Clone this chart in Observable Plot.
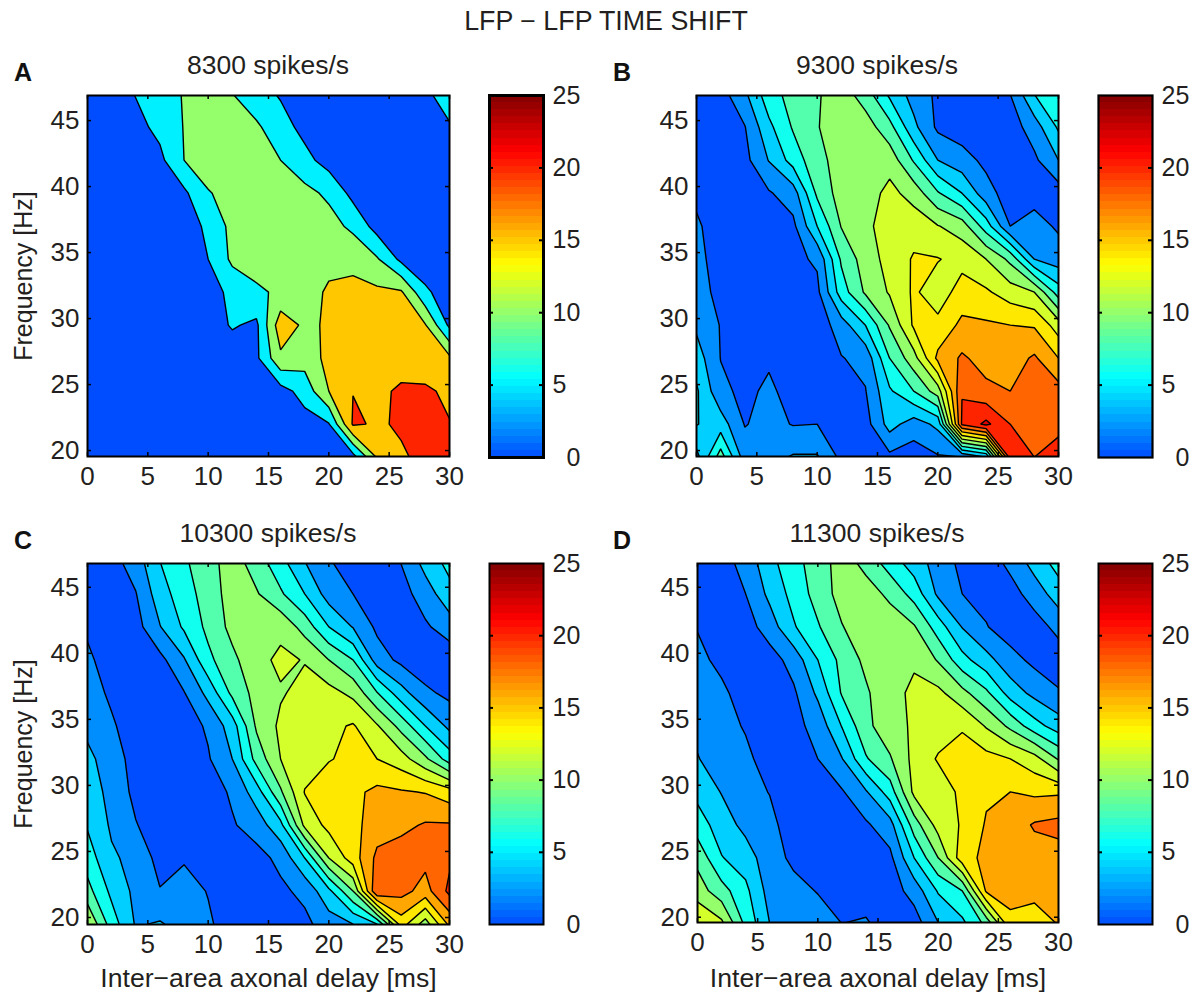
<!DOCTYPE html>
<html><head><meta charset="utf-8">
<script src="https://cdn.jsdelivr.net/npm/d3@7"></script>
<script src="https://cdn.jsdelivr.net/npm/@observablehq/plot@0.6"></script>
<style>
html,body{margin:0;padding:0;background:#fff}
#root{position:relative;width:1191px;height:994px;overflow:hidden;font-family:"Liberation Sans",sans-serif;color:#231f20}
.t{position:absolute;white-space:nowrap;line-height:1}
svg{display:block}
</style></head><body><div id="root"></div>
<script>
const delays = [0,2,4,6,8,10,12,14,16,18,20,22,24,26,28,30];
const freqs = [47,44.5,42,39.5,37,34.5,32,29.5,27,24.5,22,19.5];
const xTicks = [0,5,10,15,20,25,30];
const yTicks = [20,25,30,35,40,45];
const barTicks = [0,5,10,15,20,25];
const levelsCoarse = [0,5,10,15,20];
const levelsFine = [0,2,4,6,8,10,12,14,16,18,20,22];

const panelA = [
[.5,2.5,5.2,7.8,10.3,11,10.1,7,4.5,3,2.5,2.5,3,4.6,4.6,6],
[.5,1.5,3.5,6.3,10.2,11.5,11.5,10.8,7,3.5,2.5,2,2,2.5,3,4.8],
[.3,1,2,3.8,10,11.5,12,12,10,6.5,3,2,2,2,2,2.5],
[.3,.5,1,2,4,9.8,11,12,12,11.5,9,3.5,2,1.5,1,1],
[.3,.5,.8,1.5,2.5,6,11.5,12.5,13,13,12,8.8,3,1.5,1,.8],
[.2,.3,.5,.8,1.5,5,11,12.5,13,13.5,14,14,10.5,3.8,1.5,.8],
[.2,.2,.3,.5,1,2.5,6.5,9,11,13.5,15.5,16,16,15.6,6,2],
[.2,.2,.3,.5,1,2.5,5.5,4,18,14,15.6,16,16.5,16,15.3,4],
[.1,.2,.3,.5,.8,1.5,2,4,14,12,16.5,17,17.5,18,17,16],
[.1,.1,.2,.4,.5,.7,1,1.5,3,7,15,19.9,19,20.7,20.8,19],
[.1,.1,.1,.2,.3,.5,.6,.7,1,3,4.7,20.6,19.5,20.5,21,20.2],
[.1,.1,.1,.2,.3,.3,.5,.6,.8,1.5,2,3,15.5,19.5,21,21]
];
const panelB = [
[.5,1.2,3.6,7.2,8.7,9.8,11,9,5.6,3.2,1.6,1,1,2,6,7.5],
[.3,1,1.9,5.5,8.2,9.9,11,11,8.7,4.5,1.6,1,.8,1,3,6.3],
[.2,.5,1.4,4.1,6.8,9.4,10.8,11.5,11.2,7.8,4,2.8,1.5,.8,1.6,4],
[1.3,.3,.8,1.8,3,8.4,10.9,11,12.6,11.2,8.2,6,2.8,1,1.2,1],
[2.5,.3,.5,.8,1.5,6,10.1,11.5,13,13.2,12.1,11,7,2,2.8,1.7],
[2.8,.8,.6,.7,1.5,2.3,8.3,11,12.7,14.2,14.1,13.4,12,9.5,4,3],
[3,1.3,.5,.5,.8,1.5,7,10.3,12.2,14.3,13,14.8,14.3,13,12,7],
[3.6,1.9,.8,.5,.5,.8,3,6,10.2,14.3,14.5,16.5,16.3,16,15.8,13],
[5,1.95,1.3,1.7,.8,.8,1.9,2.6,8,11.2,16.5,18.3,17.2,17,18.3,16],
[6.3,2.5,1.5,2.4,1.2,1.4,1,1.9,5.7,8,11,19.9,18.5,18,18.7,18.8],
[6.1,5,1.9,2.6,1.9,2,.8,1.2,4.8,3,4.5,20.3,22.5,20,19.8,19.5],
[3.3,9,3,3.3,4.2,4.2,1.5,.8,1.5,1,1.8,2,4,21,20,20.8]
];
const panelC = [
[.5,1.3,3,6,7.7,9.3,10.9,9,6.6,4,2.1,1.3,1,2.1,4.8,6.7],
[.8,.9,1.9,5.1,7.1,8.9,10.9,10.2,8.3,6,3.1,2,1.5,1.2,3,5.3],
[1.5,.6,1.2,3.9,6.3,8.5,10.6,11,11.5,9.2,6,3.9,1.6,1,1.7,3],
[2.6,.5,.7,1.4,3.8,7.5,9.5,11.4,12.4,11.9,10,8,3,1.5,.8,.7],
[3,1.6,.7,1,1.9,4.6,8.5,10.7,11.8,12.6,12.7,11.5,8.1,4.8,2.4,1.5],
[3.5,2.3,.8,.7,1,2.3,5,10.3,12.4,12.7,13.5,14.2,12.2,9.3,6,3.5],
[4.5,3,1.2,.7,.6,1.8,4,8.7,12,13,13.9,14.4,14,12.9,10.4,7],
[5.2,3.3,1.5,.9,.7,1,2.3,5,9.7,14.1,15,15.5,16.5,16.2,15.9,14.9],
[5.8,3.7,2.1,1,.6,.7,1.8,2.9,5.4,12.5,14.6,15.4,17,17.5,18.2,18.2],
[7,4.3,3.4,1.3,1.8,1.3,1,1.3,2.5,6,12,15,18.5,19,18.6,19.6],
[8.7,5.5,3.5,2.1,2.8,1.9,.8,1,1.6,2.5,5.5,10,20,18.7,17.2,20.5],
[12,7,3.8,4.2,3.2,2.3,1,.8,.8,1.5,3,4,6,15,11,16.5]
];
const panelD = [
[.5,1.2,2.8,5.4,7.4,8.9,11,9.2,6.9,4.9,3.2,1.4,1,2.6,4.9,6.9],
[.3,.9,2,4.5,6.7,8.8,10.8,11,9.5,7.2,3.6,2,1.4,1.2,2.9,5],
[1.9,.7,1.1,3,5.8,7.8,9.9,11.2,11.2,10.2,7,3.9,2.1,1,1.1,2.6],
[2.5,1.5,.7,1.1,2.8,6,8.6,10.5,11.6,11.8,9.8,6.7,4.7,2.7,1.5,.9],
[3,2.4,1.1,.8,1.7,4.4,8.2,9.7,11.5,12.3,12.5,10.6,8.4,5.1,3.4,2.2],
[3.5,2.8,1.8,.9,1.4,2.7,6.1,9.5,11.2,12.3,13,13.8,11.8,9.5,6.8,5],
[4.1,3,2.5,1,.7,2,3.9,7.8,9.8,12.6,14.2,14.8,14.7,14,12.8,9.8],
[5.4,3.9,3,1.9,.6,.8,1.8,3.8,7,12.5,12.8,14.5,15.7,16,15.6,15.7],
[7,5,3.4,2.8,.5,.4,1,1.7,3.2,9,12.8,14.2,16.2,17,18.2,18.6],
[9.4,6.1,5,2.8,1.6,.9,.7,.9,1.5,6,10,15.2,16.5,17,17.2,17.2],
[11,8.8,6.5,3.2,2.6,1.9,.8,.8,1,2.8,6.2,8,16.3,16.8,16.7,16.3],
[14,12.5,7.5,4,3,2.9,2,2.3,.8,1,3.9,5.5,8.5,15.4,14.8,16.1]
];

const titleText = "LFP \u2212 LFP TIME SHIFT";
const panelTitles = ["8300 spikes/s","9300 spikes/s","10300 spikes/s","11300 spikes/s"];
const panelLetters = ["A","B","C","D"];
const xLabelText = "Inter\u2212area axonal delay [ms]";
const yLabelText = "Frequency [Hz]";

const FONT = '"Liberation Sans",sans-serif';
const INK = "#231f20";
const FS = 26;
const colorOpts = {type:"linear",domain:[0,5.47,13.28,21.1,25],
  range:["rgb(0,77,255)","rgb(0,255,255)","rgb(255,255,0)","rgb(255,0,0)","rgb(128,0,0)"],interpolate:"rgb"};
const root = document.getElementById("root");
const svgStyle = (l,t)=>({position:"absolute",left:l+"px",top:t+"px",background:"transparent",fontFamily:FONT,fontSize:FS+"px",overflow:"visible"});

function addText(text,x,y,size,opts={}){
  const d=document.createElement("div");d.className="t";d.textContent=text;
  d.style.left=x+"px";d.style.top=y+"px";d.style.fontSize=size+"px";
  if(opts.center)d.style.transform="translate(-50%,0)";
  if(opts.bold){d.style.fontWeight="bold";d.style.color="#111";}
  root.appendChild(d);
}

function panel(rows,thresholds,left,top,plotW,plotH,yDomain,showY,showX,xLabelOffset){
  const values=rows.flat();
  const dx=delays[1]-delays[0], dy=freqs[0]-freqs[1];
  const mL=87,mT=10,mR=6,mB=showX?70:42;
  const tk=4;
  root.appendChild(Plot.plot({
    width:mL+plotW+mR,height:mT+plotH+mB,marginLeft:mL,marginRight:mR,marginTop:mT,marginBottom:mB,
    style:svgStyle(left-mL,top-mT),
    x:{domain:[0,30]},y:{domain:yDomain},color:colorOpts,
    marks:[
      Plot.contour(values,{value:Plot.identity,width:delays.length,height:freqs.length,
        x1:delays[0]-dx/2,x2:delays[delays.length-1]+dx/2,y1:freqs[0]+dy/2,y2:freqs[freqs.length-1]-dy/2,
        thresholds,fill:"value",stroke:"black",strokeWidth:1.4,clip:true}),
      Plot.axisX({anchor:"bottom",ticks:xTicks,tickSize:0,tickPadding:10,fontSize:FS,fill:INK}),
      Plot.axisX({anchor:"bottom",ticks:xTicks,tickSize:0,tickFormat:()=>"",fontSize:26.6,fill:INK,
        label:showX?xLabelText:null,labelAnchor:"center",labelArrow:"none",labelOffset:xLabelOffset}),
      Plot.axisY({anchor:"left",ticks:yTicks,tickSize:0,tickPadding:8,fontSize:FS,fill:INK,label:null}),
      Plot.axisY({anchor:"left",ticks:yTicks,tickSize:0,tickFormat:()=>"",fontSize:25,fill:INK,
        label:showY?yLabelText:null,labelAnchor:"center",labelArrow:"none",labelOffset:73}),
      Plot.tickX(xTicks,{x:d=>d,insetTop:plotH-tk,stroke:"black",strokeWidth:1.5}),
      Plot.tickX(xTicks,{x:d=>d,insetBottom:plotH-tk,stroke:"black",strokeWidth:1.5}),
      Plot.tickY(yTicks,{y:d=>d,insetRight:plotW-tk,stroke:"black",strokeWidth:1.5}),
      Plot.tickY(yTicks,{y:d=>d,insetLeft:plotW-tk,stroke:"black",strokeWidth:1.5}),
      Plot.frame({stroke:"black",strokeWidth:2})
    ]
  }));
}

function colorbar(left,top,barW,barH,sw){
  const n=51, levels=d3.range(n).map(i=>i*25/n);
  const mL=4,mT=14,mR=48,mB=16;
  root.appendChild(Plot.plot({
    width:mL+barW+mR,height:mT+barH+mB,marginLeft:mL,marginRight:mR,marginTop:mT,marginBottom:mB,
    style:svgStyle(left-mL,top-mT),
    x:{domain:[0,1],axis:null},y:{domain:[0,25]},color:colorOpts,
    marks:[
      Plot.rect(levels,{x1:0,x2:1,y1:d=>d,y2:d=>d+25/n+.03,fill:d=>d+12.5/n,shapeRendering:"crispEdges"}),
      Plot.axisY({anchor:"right",ticks:barTicks,tickSize:0,tickPadding:9,textAnchor:"start",fontSize:25,fill:INK,
        tickFormat:d=>d===0?"\u2007"+d:String(d),label:null}),
      Plot.tickY(barTicks.slice(1,-1),{y:d=>d,insetRight:barW-4,stroke:"black",strokeWidth:2}),
      Plot.tickY(barTicks.slice(1,-1),{y:d=>d,insetLeft:barW-4,stroke:"black",strokeWidth:2}),
      Plot.frame({stroke:"black",strokeWidth:sw})
    ]
  }));
}

addText(titleText,606,8,26.8,{center:true});
panel(panelA,levelsCoarse,87,95,362,361,[19.55,46.9],true,false,0);
panel(panelB,levelsFine,696,95,362,361,[19.55,46.9],false,false,0);
panel(panelC,levelsFine,87,563,362,361,[19.47,46.8],true,true,62);
panel(panelD,levelsFine,697,563,361,359,[19.6,46.8],false,true,64);
colorbar(489,95,54,362,3);
colorbar(1098,95,54,362,2.2);
colorbar(489,563,54,361,2);
colorbar(1098,563,54,361,2);
addText(panelTitles[0],268,52,26.5,{center:true});
addText(panelTitles[1],877,52,26.5,{center:true});
addText(panelTitles[2],268,520,26.5,{center:true});
addText(panelTitles[3],877,520,26.5,{center:true});
addText(panelLetters[0],14,60,25,{bold:true});
addText(panelLetters[1],613,60,25,{bold:true});
addText(panelLetters[2],14,528,25,{bold:true});
addText(panelLetters[3],613,528,25,{bold:true});
</script></body></html>
